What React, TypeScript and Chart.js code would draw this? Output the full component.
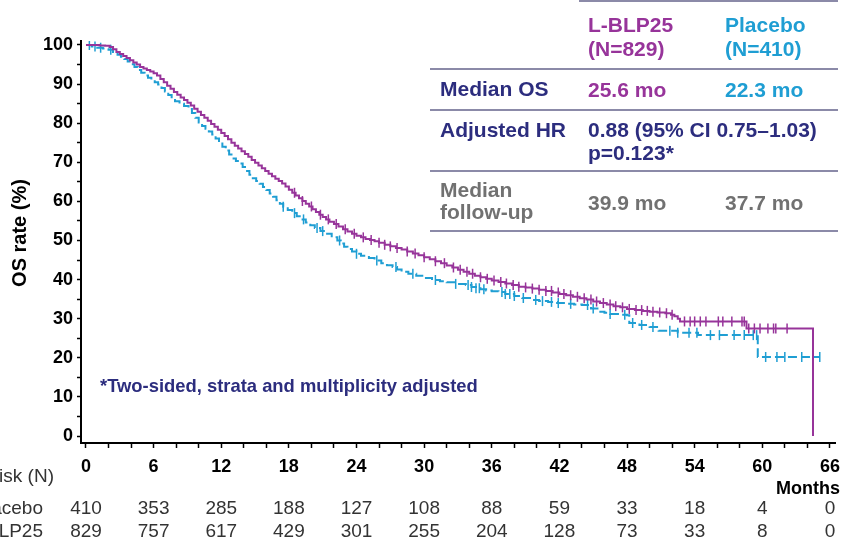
import React, { useEffect, useRef } from 'react';
import { Chart, registerables } from 'chart.js';

Chart.register(...registerables);

// ---------- data ----------
const RISK_MONTHS = [0, 6, 12, 18, 24, 30, 36, 42, 48, 54, 60, 66];
const AT_RISK_PLACEBO = [410, 353, 285, 188, 127, 108, 88, 59, 33, 18, 4, 0];
const AT_RISK_LBLP25 = [829, 757, 617, 429, 301, 255, 204, 128, 73, 33, 8, 0];

const LBLP25_MONTHS = [
  0, 0.6, 1.2, 1.7, 2.1, 2.4, 2.7, 3.0, 3.3, 3.6, 3.9, 4.2, 4.5, 4.8, 5.1, 5.4, 5.7, 6.0, 6.3, 6.6,
  6.9, 7.2, 7.5, 7.8, 8.1, 8.4, 8.7, 9.0, 9.3, 9.6, 9.9, 10.2, 10.5, 10.8, 11.1, 11.4, 11.7, 12.0,
  12.3, 12.6, 12.9, 13.2, 13.5, 13.8, 14.1, 14.4, 14.7, 15.0, 15.3, 15.6, 15.9, 16.2, 16.5, 16.8,
  17.1, 17.4, 17.7, 18.0, 18.3, 18.6, 18.9, 19.2, 19.5, 19.8, 20.1, 20.4, 20.7, 21.0, 21.3, 21.6,
  22.0, 22.4, 22.8, 23.2, 23.6, 24.0, 24.4, 24.8, 25.2, 25.6, 26.0, 26.5, 27.0, 27.5, 28.0, 28.5,
  29.0, 29.5, 30.0, 30.5, 31.0, 31.5, 32.0, 32.5, 33.0, 33.5, 34.0, 34.5, 35.0, 35.5, 36.0, 36.6,
  37.2, 37.8, 38.4, 39.0, 39.6, 40.2, 40.8, 41.4, 42.0, 42.6, 43.2, 43.8, 44.4, 45.0, 45.6, 46.2,
  46.8, 47.4, 48.0, 48.7, 49.4, 50.0, 50.7, 51.4, 51.9, 52.2, 52.5, 52.7, 58.6, 64.5,
];
const LBLP25_OS = [
  100, 100, 99.9, 99.8, 99.5, 98.9, 98.2, 97.7, 97.2, 96.7, 96.1, 95.5, 95.0, 94.4, 94.0, 93.6, 93.2, 92.8, 92.2, 91.3,
  90.5, 89.6, 88.8, 88.0, 87.3, 86.6, 85.9, 85.2, 84.5, 83.7, 82.9, 82.1, 81.4, 80.6, 79.8, 79.1, 78.3, 77.5,
  76.7, 75.9, 75.0, 74.2, 73.5, 72.8, 72.1, 71.4, 70.6, 69.9, 69.2, 68.5, 67.8, 67.1, 66.4, 65.8,
  65.2, 64.6, 63.8, 63.0, 62.2, 61.5, 60.8, 60.1, 59.4, 58.7, 58.0, 57.3, 56.6, 56.0, 55.4, 54.8,
  54.2, 53.6, 52.9, 52.3, 51.7, 51.2, 50.8, 50.4, 50.1, 49.8, 49.4, 48.9, 48.5, 48.1, 47.7, 47.2,
  46.7, 46.2, 45.7, 45.2, 44.7, 44.2, 43.6, 43.1, 42.5, 42.0, 41.5, 41.0, 40.6, 40.2, 39.8, 39.4,
  39.0, 38.6, 38.2, 38.0, 37.7, 37.4, 37.1, 36.7, 36.3, 36.0, 35.6, 35.2, 34.9, 34.4, 34.0, 33.6,
  33.2, 32.9, 32.5, 32.2, 32.0, 31.8, 31.6, 31.4, 31.0, 30.6, 30.0, 29.3, 27.5, 0,
];
const PLACEBO_MONTHS = [
  0, 0.5, 1.0, 1.5, 2.0, 2.4, 2.8, 3.1, 3.4, 3.7, 4.0, 4.3, 4.6, 4.9, 5.2, 5.5, 5.8, 6.1, 6.4, 6.7,
  7.0, 7.3, 7.6, 7.9, 8.3, 8.7, 9.1, 9.4, 9.7, 10.0, 10.3, 10.6, 10.9, 11.2, 11.5, 11.8, 12.1, 12.4,
  12.7, 13.0, 13.3, 13.6, 13.9, 14.2, 14.5, 14.8, 15.1, 15.4, 15.7, 16.0, 16.3, 16.6, 16.9, 17.2,
  17.5, 17.9, 18.3, 18.7, 19.1, 19.5, 19.9, 20.3, 20.8, 21.3, 21.8, 22.3, 22.6, 22.9, 23.2, 23.6,
  24.0, 24.4, 25.1, 25.6, 26.2, 26.7, 27.2, 27.6, 28.0, 28.6, 29.3, 30.0, 30.7, 31.4, 32.0, 32.8,
  33.7, 34.2, 34.6, 35.0, 35.5, 36.0, 36.6, 37.2, 38.0, 38.7, 39.5, 40.2, 41.0, 41.8, 42.5, 43.3,
  44.0, 44.8, 45.5, 46.0, 46.5, 47.3, 48.0, 48.2, 49.1, 50.0, 50.8, 52.5, 54.3, 59.6, 65.1,
];
const PLACEBO_OS = [
  100, 99.6, 99.3, 99.1, 98.8, 98.2, 97.5, 97.0, 96.4, 95.8, 95.1, 94.4, 93.6, 92.9, 92.2, 91.6, 91.0, 90.5, 89.9, 89.0,
  88.1, 87.2, 86.3, 85.6, 85.0, 84.4, 83.6, 82.6, 81.4, 80.2, 79.3, 78.6, 77.9, 77.1, 76.1, 75.1, 74.0, 73.0,
  72.0, 71.0, 70.3, 69.7, 68.8, 67.8, 66.8, 65.9, 65.2, 64.5, 63.7, 62.9, 62.0, 61.2, 60.3, 59.4,
  58.6, 57.8, 57.0, 56.2, 55.4, 54.6, 53.9, 53.2, 52.4, 51.7, 50.8, 50.0, 49.2, 48.4, 47.8, 47.2,
  46.6, 46.1, 45.5, 44.9, 44.2, 43.7, 43.2, 42.6, 42.0, 41.5, 41.0, 40.4, 39.9, 39.6, 39.3, 38.9,
  38.6, 38.1, 37.8, 37.5, 37.2, 37.0, 36.8, 36.3, 35.8, 35.3, 34.8, 34.5, 34.3, 34.0, 33.8, 33.6,
  33.5, 32.6, 31.8, 31.5, 31.2, 31.0, 30.9, 28.9, 28.4, 27.9, 26.9, 26.4, 25.8, 20.2, 20.2,
];

const LBLP25_CENSOR = [
  18.5, 19.2, 20.0, 20.8, 21.5, 22.2, 23.0, 23.8, 24.6, 25.3, 26.0, 26.5, 27.0, 27.6, 28.5, 29.2,
  30.0, 31.0, 31.8, 32.6, 33.2, 33.8, 34.3, 35.0, 35.6, 36.2, 36.8, 37.3, 37.9, 38.4, 39.0, 39.6,
  40.2, 40.8, 41.3, 41.9, 42.4, 43.0, 43.6, 44.2, 44.8, 45.3, 45.9, 46.5, 47.0, 47.6, 48.2, 48.8,
  49.3, 49.8, 50.3, 50.9, 51.5, 52.0, 53.1, 53.6, 54.0, 54.5, 55.0, 56.1, 56.5, 57.3, 58.2, 58.4,
  58.8, 59.3, 59.8, 60.5, 61.0, 61.2, 62.2,
];
const PLACEBO_CENSOR = [
  0.3, 0.8, 1.3, 2.2, 17.5, 18.5, 19.3, 20.5, 21.0, 22.5, 24.0, 25.8, 27.5, 29.0, 31.0, 32.8, 33.9,
  34.2, 34.6, 34.9, 35.3, 36.9, 37.2, 37.6, 38.0, 38.8, 39.9, 40.5, 41.3, 41.9, 43.0, 44.5, 45.0,
  46.5, 47.8, 48.5, 49.3, 50.3, 51.8, 52.5, 53.5, 54.2, 55.4, 56.2, 57.5, 58.4, 59.2, 59.5, 60.3,
  61.3, 62.0, 63.5, 65.1,
];

const TABLE_HEAD = ['L-BLP25', '(N=829)', 'Placebo', '(N=410)'];
const MEDIAN_OS = ['Median OS', '25.6 mo', '22.3 mo'];
const ADJ_HR = ['Adjusted HR', '0.88 (95% CI 0.75\u20131.03)', 'p=0.123*'];
const FOLLOW_UP = ['Median', 'follow-up', '39.9 mo', '37.7 mo'];
const FOOTNOTE = '*Two-sided, strata and multiplicity adjusted';

// ---------- styles ----------
const FONT = '"Liberation Sans", Arial, sans-serif';
const PURPLE = '#97349a';
const BLUE = '#1f9ed3';
const NAVY = '#2c2d7e';
const GRAY = '#717171';
const RULE = '#8b8aa8';

function pairs(xs: number[], ys: number[]) {
  return xs.map((x, i) => ({ x, y: ys[i] }));
}
function censorPoints(times: number[], xs: number[], ys: number[]) {
  return times.map((t) => {
    let v = ys[0];
    for (let i = 0; i < xs.length; i++) if (xs[i] <= t) v = ys[i];
    return { x: t, y: v };
  });
}

const overlayPlugin = {
  id: 'overlay',
  afterDraw(chart: any) {
    const ctx = chart.ctx as CanvasRenderingContext2D;
    const xs = chart.scales.x;
    ctx.save();

    // y title
    ctx.save();
    ctx.translate(20, 233);
    ctx.rotate(-Math.PI / 2);
    ctx.font = `bold 20px ${FONT}`;
    ctx.fillStyle = '#000';
    ctx.textAlign = 'center';
    ctx.textBaseline = 'middle';
    ctx.fillText('OS rate (%)', 0, 0);
    ctx.restore();

    // Months label
    ctx.font = `bold 18px ${FONT}`;
    ctx.fillStyle = '#000';
    ctx.textAlign = 'right';
    ctx.textBaseline = 'alphabetic';
    ctx.fillText('Months', 840, 494);

    // risk table
    ctx.font = `19px ${FONT}`;
    ctx.fillStyle = '#333';
    ctx.textAlign = 'right';
    ctx.fillText('At risk (N)', 54, 482);
    ctx.fillText('Placebo', 43, 514);
    ctx.fillText('L-BLP25', 43, 537);
    ctx.textAlign = 'center';
    RISK_MONTHS.forEach((m, i) => {
      const px = xs.getPixelForValue(m);
      ctx.fillText(String(AT_RISK_PLACEBO[i]), px, 514);
      ctx.fillText(String(AT_RISK_LBLP25[i]), px, 537);
    });

    // summary table rules
    ctx.strokeStyle = RULE;
    ctx.lineWidth = 2;
    const rule = (x1: number, y: number) => {
      ctx.beginPath();
      ctx.moveTo(x1, y);
      ctx.lineTo(838, y);
      ctx.stroke();
    };
    rule(579, 1);
    rule(430, 69);
    rule(430, 110);
    rule(430, 171);
    rule(430, 231);

    ctx.textAlign = 'left';
    ctx.font = `bold 21px ${FONT}`;
    ctx.fillStyle = PURPLE;
    ctx.fillText(TABLE_HEAD[0], 588, 32);
    ctx.fillText(TABLE_HEAD[1], 588, 56);
    ctx.fillStyle = BLUE;
    ctx.fillText(TABLE_HEAD[2], 725, 32);
    ctx.fillText(TABLE_HEAD[3], 725, 56);

    ctx.fillStyle = NAVY;
    ctx.fillText(MEDIAN_OS[0], 440, 96);
    ctx.fillStyle = PURPLE;
    ctx.fillText(MEDIAN_OS[1], 588, 97);
    ctx.fillStyle = BLUE;
    ctx.fillText(MEDIAN_OS[2], 725, 97);

    ctx.fillStyle = NAVY;
    ctx.fillText(ADJ_HR[0], 440, 137);
    ctx.fillText(ADJ_HR[1], 588, 137);
    ctx.fillText(ADJ_HR[2], 588, 160);

    ctx.fillStyle = GRAY;
    ctx.fillText(FOLLOW_UP[0], 440, 197);
    ctx.fillText(FOLLOW_UP[1], 440, 219);
    ctx.fillText(FOLLOW_UP[2], 588, 210);
    ctx.fillText(FOLLOW_UP[3], 725, 210);

    // footnote
    ctx.fillStyle = NAVY;
    ctx.font = `bold 18.4px ${FONT}`;
    ctx.fillText(FOOTNOTE, 100, 392);

    ctx.restore();
  },
};

export default function App() {
  const ref = useRef<HTMLCanvasElement | null>(null);

  useEffect(() => {
    if (!ref.current) return;
    const chart = new Chart(ref.current, {
      type: 'line',
      data: {
        datasets: [
          {
            label: 'L-BLP25',
            data: pairs(LBLP25_MONTHS, LBLP25_OS),
            borderColor: PURPLE,
            borderWidth: 2,
            stepped: true,
            pointRadius: 0,
            fill: false,
          },
          {
            label: 'Placebo',
            data: pairs(PLACEBO_MONTHS, PLACEBO_OS),
            borderColor: BLUE,
            borderWidth: 2,
            borderDash: [9, 4],
            stepped: true,
            pointRadius: 0,
            fill: false,
          },
          {
            label: 'L-BLP25 censored',
            data: censorPoints(LBLP25_CENSOR, LBLP25_MONTHS, LBLP25_OS),
            showLine: false,
            pointStyle: 'line',
            rotation: 90,
            pointRadius: 5,
            borderColor: PURPLE,
            pointBorderColor: PURPLE,
            pointBorderWidth: 1.5,
          },
          {
            label: 'Placebo censored',
            data: censorPoints(PLACEBO_CENSOR, PLACEBO_MONTHS, PLACEBO_OS),
            showLine: false,
            pointStyle: 'line',
            rotation: 90,
            pointRadius: 5,
            borderColor: BLUE,
            pointBorderColor: BLUE,
            pointBorderWidth: 1.5,
          },
        ],
      },
      options: {
        responsive: false,
        animation: false,
        layout: { padding: { top: 41, right: 10, left: 0, bottom: 0 } },
        plugins: { legend: { display: false }, tooltip: { enabled: false } },
        scales: {
          x: {
            type: 'linear',
            min: -0.442,
            max: 66.53,
            afterFit: (s: any) => {
              s.height = 97;
            },
            border: { display: true, color: '#000', width: 2 },
            grid: { drawOnChartArea: false, drawTicks: true, tickLength: 5, color: '#000', tickWidth: 1.5 },
            ticks: {
              stepSize: 2,
              includeBounds: false,
              autoSkip: false,
              maxRotation: 0,
              padding: 8,
              color: '#000',
              font: { family: FONT, size: 18, weight: 'bold' },
              callback: (v: any) => (Number(v) % 6 === 0 ? String(v) : ''),
            },
          },
          y: {
            type: 'linear',
            min: -1.79,
            max: 101.02,
            afterFit: (s: any) => {
              s.width = 81;
            },
            border: { display: true, color: '#000', width: 2 },
            grid: { drawOnChartArea: false, drawTicks: true, tickLength: 4, color: '#000', tickWidth: 1.5 },
            ticks: {
              stepSize: 5,
              includeBounds: false,
              autoSkip: false,
              padding: 4,
              color: '#000',
              font: { family: FONT, size: 18, weight: 'bold' },
              callback: (v: any) => (Number(v) % 10 === 0 ? String(v) : ''),
            },
          },
        },
      },
      plugins: [overlayPlugin],
    } as any);
    return () => chart.destroy();
  }, []);

  return (
    <div style={{ position: 'absolute', left: 0, top: 0, width: 848, height: 540, background: '#fff' }}>
      <canvas ref={ref} width={848} height={540} />
    </div>
  );
}
